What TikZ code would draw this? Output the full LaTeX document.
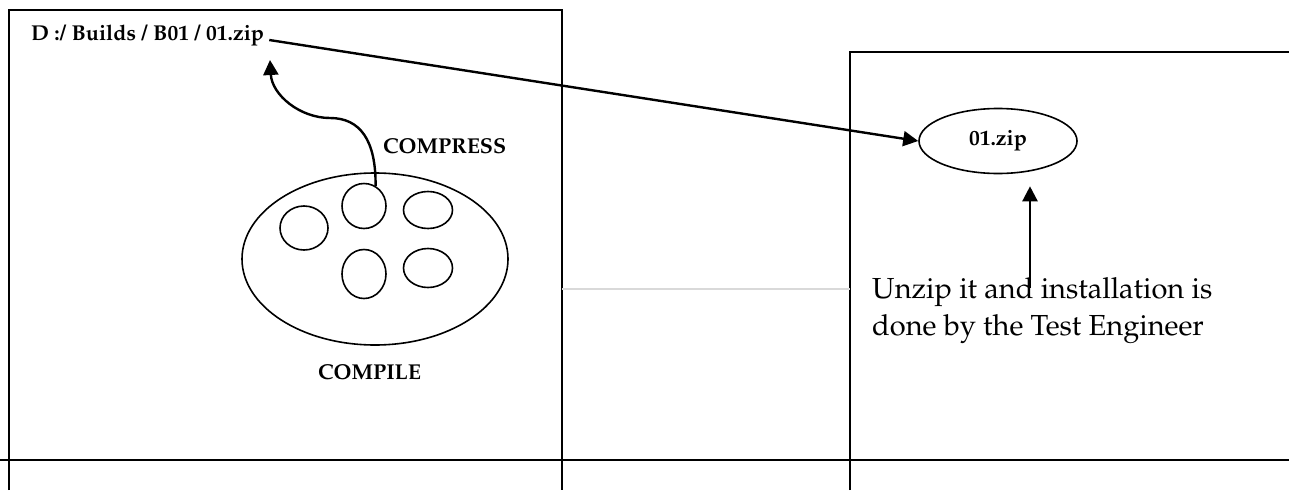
\documentclass[tikz,border=0pt]{standalone}
\usepackage[T1]{fontenc}
\usepackage{mathpazo}
\usetikzlibrary{arrows.meta,shapes.geometric}
\tikzset{
  frame/.style={line width=2.2pt},
  bubble/.style={draw,ellipse,line width=1.6pt,inner sep=0pt},
  lbl/.style={inner sep=0pt,font=\fontsize{21.5}{26}\selectfont\bfseries},
  arr/.style={line width=2.4pt,-{Triangle[length=15pt,width=15pt]}}
}

\begin{document}
\begin{tikzpicture}[x=1pt,y=-1pt]
  \useasboundingbox (0,0) rectangle (1289,490);
  % frames
  \draw[frame] (9,490) -- (9,10) -- (562,10) -- (562,490);
  \draw[frame] (850,490) -- (850,52) -- (1289,52);
  \draw[frame] (0,460) -- (1289,460);
  \draw[line width=1.5pt,black!15] (562,289) -- (850,289);

  % left side: build folder
  \node[lbl,anchor=base west] (pathlbl) at (31,40) {D :/ Builds / B01 / 01.zip};
  \node[bubble,minimum width=266pt,minimum height=172pt] (cluster) at (375,259) {};
  \node[bubble,minimum width=48pt,minimum height=44pt] (m1) at (304,228) {};
  \node[bubble,minimum width=44pt,minimum height=45pt] (m2) at (364,206) {};
  \node[bubble,minimum width=49pt,minimum height=37pt] (m3) at (428,210) {};
  \node[bubble,minimum width=44pt,minimum height=49pt] (m4) at (364,274) {};
  \node[bubble,minimum width=49pt,minimum height=39pt] (m5) at (428,268) {};
  \node[lbl,anchor=base west] (compress) at (383,153) {COMPRESS};
  \node[lbl,anchor=base west] (compile) at (318,379) {COMPILE};
  \coordinate (ziptip) at (270,60);
  \draw[arr] (m2.60) .. controls (376,140) and (360,118) .. (330,118)
    .. controls (300,118) and (272,95) .. (ziptip);

  % right side: test machine
  \node[bubble,minimum width=158pt,minimum height=65pt,
        font=\fontsize{21.5}{26}\selectfont\bfseries] (zipnode) at (998,141) {01.zip\hspace{26pt}};
  \draw[arr] ([xshift=5pt]pathlbl.base east) -- (zipnode.west);
  \node[anchor=base west,inner sep=0pt,align=left,
        font=\fontsize{29}{37}\selectfont] (unzip) at (872,335)
    {Unzip it and installation is\\done by the Test Engineer};
  \coordinate (unzipfoot) at (1030,288);
  \draw[arr,shorten >=12pt] (unzipfoot) -- (zipnode.south -| unzipfoot);
\end{tikzpicture}
\end{document}
